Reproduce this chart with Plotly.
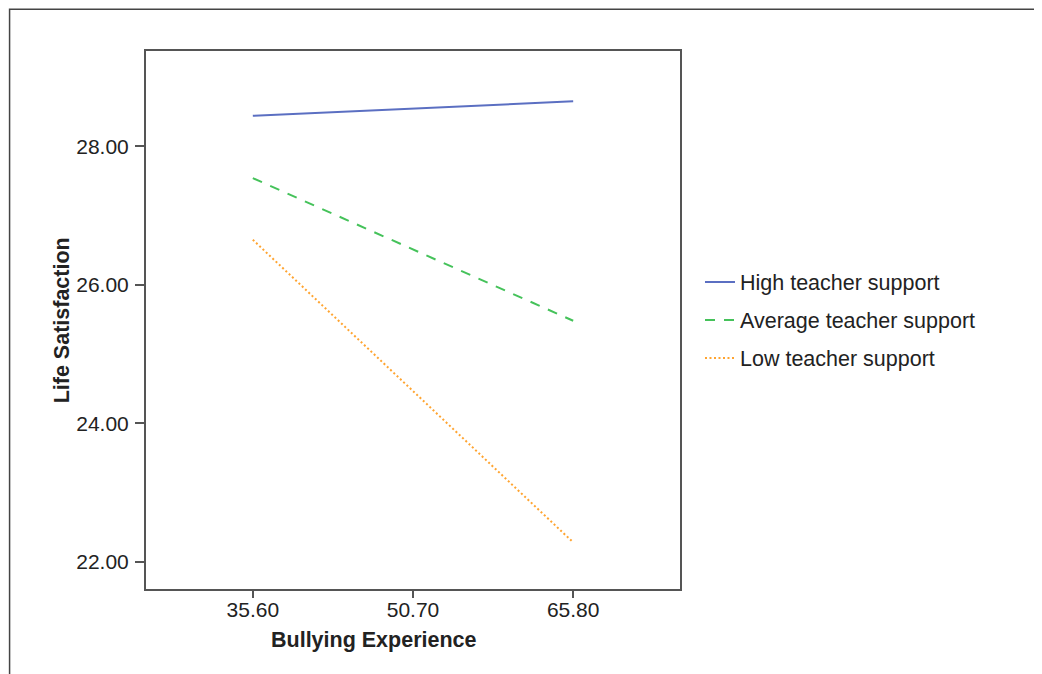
import plotly.graph_objects as go

x_levels = [35.60, 65.80]
x_tick_vals = [35.60, 50.70, 65.80]
x_tick_text = ["35.60", "50.70", "65.80"]
y_tick_vals = [22, 24, 26, 28]
y_tick_text = ["22.00", "24.00", "26.00", "28.00"]

high_support = [28.44, 28.65]
average_support = [27.54, 25.48]
low_support = [26.65, 22.28]

series_names = ["High teacher support", "Average teacher support", "Low teacher support"]

FONT = "Liberation Sans, Arial, sans-serif"

# page body has an 8px default margin; compensate in figure margins
OFF = 8
L, T = 145.7 - OFF, 50.7 - OFF
PW, PH = 534.3, 538.3

fig = go.Figure()
fig.add_trace(go.Scatter(x=x_levels, y=high_support, mode="lines", name=series_names[0],
                         legendgroup="a",
                         line=dict(color="#5B6FC2", width=2, dash="solid")))
fig.add_trace(go.Scatter(x=x_levels, y=average_support, mode="lines", name=series_names[1],
                         legendgroup="b",
                         line=dict(color="#45C25A", width=2, dash="10px,9px")))
fig.add_trace(go.Scatter(x=x_levels, y=low_support, mode="lines", name=series_names[2],
                         legendgroup="c",
                         line=dict(color="#FFA430", width=2, dash="2px,2.5px")))

axis_common = dict(showgrid=False, zeroline=False, showline=True, linecolor="#555555",
                   linewidth=2, mirror=True, ticks="outside", tickwidth=1.5,
                   tickcolor="#555555", tickfont=dict(family=FONT, size=21, color="#222222"))

fig.update_xaxes(range=[25.53, 75.87], tickmode="array", tickvals=x_tick_vals,
                 ticktext=x_tick_text, ticklen=7, ticklabelstandoff=-6, **axis_common)
fig.update_yaxes(range=[21.606, 29.376], tickmode="array", tickvals=y_tick_vals,
                 ticktext=y_tick_text, ticklen=9, ticklabelstandoff=2, **axis_common)

fig.update_layout(
    width=1042, height=674,
    margin=dict(l=L, r=1042 - L - PW, t=T, b=674 - T - PH, pad=0),
    paper_bgcolor="white", plot_bgcolor="white",
    showlegend=True,
    legend=dict(x=(700 - 145.7) / PW, y=0.5, xanchor="left", yanchor="middle",
                font=dict(family=FONT, size=21.5, color="#222222"),
                tracegroupgap=7, bgcolor="rgba(0,0,0,0)", borderwidth=0),
    annotations=[
        dict(text="<b>Bullying Experience</b>", xref="paper", yref="paper",
             x=(374 - 145.7) / PW, y=1 - (640 - 50.7) / PH, xanchor="center", yanchor="middle",
             showarrow=False, font=dict(family=FONT, size=21.5, color="#222222")),
        dict(text="<b>Life Satisfaction</b>", xref="paper", yref="paper",
             x=(62 - 145.7) / PW, y=0.5, xanchor="center", yanchor="middle",
             textangle=-90, showarrow=False,
             font=dict(family=FONT, size=21.5, color="#222222")),
    ],
    shapes=[
        dict(type="rect", xref="paper", yref="paper",
             x0=(9.2 - 145.7) / PW, x1=2.0,
             y0=-1.0, y1=1 + (50.7 - 9) / PH,
             line=dict(color="#444444", width=1.5), fillcolor="rgba(0,0,0,0)", layer="below"),
    ],
)

fig.write_html("out.html")
